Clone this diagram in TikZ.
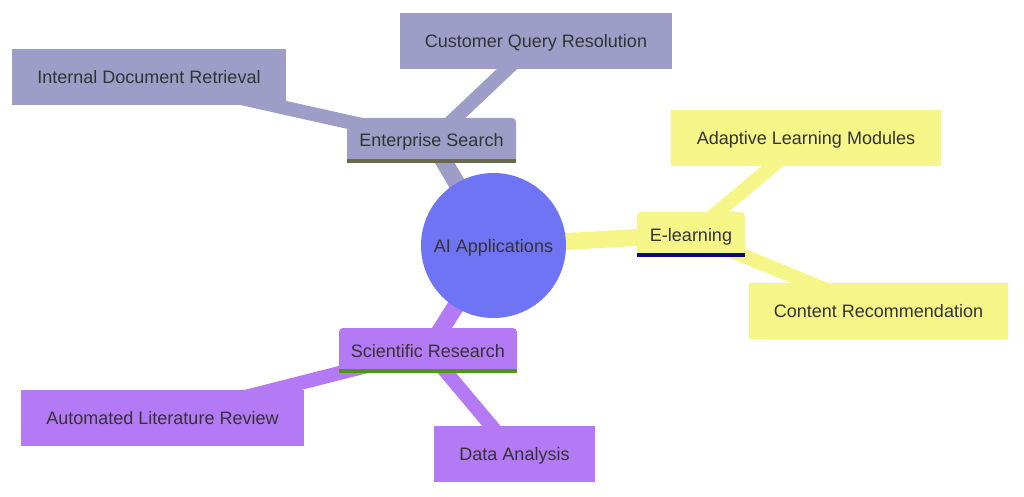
\documentclass[tikz,border=0pt]{standalone}
\usepackage{fontspec}
\setmainfont{Liberation Sans}
\usetikzlibrary{backgrounds}
\definecolor{mmroot}{RGB}{111,116,245}
\definecolor{mmes}{RGB}{157,157,199}
\definecolor{mmel}{RGB}{246,246,136}
\definecolor{mmsr}{RGB}{180,122,245}
\definecolor{mmesline}{RGB}{104,104,76}
\definecolor{mmelline}{RGB}{10,10,128}
\definecolor{mmsrline}{RGB}{77,150,24}
\definecolor{mmtext}{RGB}{51,51,51}

\begin{document}
\begin{tikzpicture}[x=1pt,y=-1pt,font=\fontsize{18}{22}\selectfont,
    every node/.style={text=mmtext,inner sep=0pt,align=center,text height=13pt,text depth=0pt},
    leaf/.style={fill=#1,minimum height=56pt},
    branch/.style 2 args={fill=#1,rounded corners=4pt,minimum height=45pt,
      append after command={([yshift=2pt]\tikzlastnode.south west) edge[draw=#2,line width=4pt] ([yshift=2pt]\tikzlastnode.south east)}},
    rootedge/.style={line width=17pt},
    leafedge/.style={line width=14pt}]
    \useasboundingbox (0,0) rectangle (1024,497);
    % root
    \node[circle,fill=mmroot,minimum size=145pt] (root) at (493.5,245.5) {AI Applications};
    % enterprise search
    \node[branch={mmes}{mmesline},minimum width=169pt] (es) at (431.5,140.5) {Enterprise Search};
    \node[leaf=mmes,minimum width=272pt] (cqr) at (536,41.5) {Customer Query Resolution};
    \node[leaf=mmes,minimum width=274pt] (idr) at (149,77.5) {Internal Document Retrieval};
    % e-learning
    \node[branch={mmel}{mmelline},minimum width=108pt] (el) at (691,234.5) {E-learning};
    \node[leaf=mmel,minimum width=270pt] (alm) at (806,138) {Adaptive Learning Modules};
    \node[leaf=mmel,minimum width=259pt] (cr) at (878.5,311) {Content Recommendation};
    % scientific research
    \node[branch={mmsr}{mmsrline},minimum width=178pt] (sr) at (428,350.5) {Scientific Research};
    \node[leaf=mmsr,minimum width=283pt] (alr) at (162.5,418) {Automated Literature Review};
    \node[leaf=mmsr,minimum width=161pt] (da) at (514.5,453.5) {Data Analysis};
    % connectors
    \begin{scope}[on background layer]
      \draw[rootedge,draw=mmes] (root.center) -- (es.center);
      \draw[rootedge,draw=mmel] (root.center) -- (el.center);
      \draw[rootedge,draw=mmsr] (root.center) -- (sr.center);
      \draw[leafedge,draw=mmes] (es.center) -- (cqr.center);
      \draw[leafedge,draw=mmes] (es.center) -- (idr.center);
      \draw[leafedge,draw=mmel] (el.center) -- (alm.center);
      \draw[leafedge,draw=mmel] (el.center) -- (cr.center);
      \draw[leafedge,draw=mmsr] (sr.center) -- (alr.center);
      \draw[leafedge,draw=mmsr] (sr.center) -- (da.center);
    \end{scope}
\end{tikzpicture}
\end{document}
